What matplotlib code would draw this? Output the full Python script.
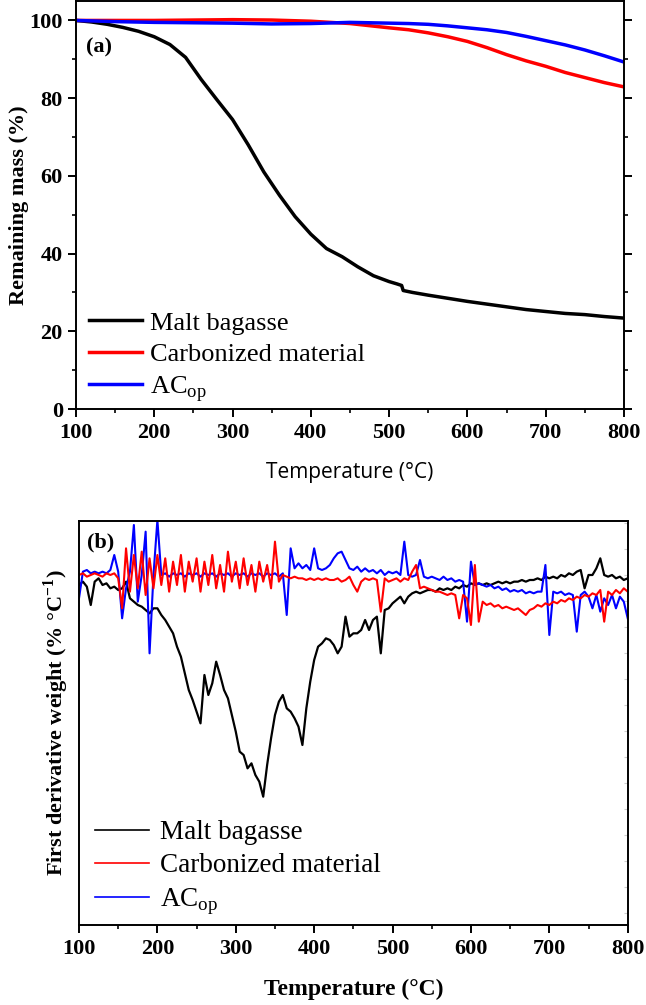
import matplotlib
matplotlib.use('Agg')
import matplotlib.pyplot as plt
from matplotlib.ticker import MultipleLocator
import numpy as np

plt.rcParams['font.family'] = 'Liberation Serif'
plt.rcParams['mathtext.fontset'] = 'custom'
plt.rcParams['mathtext.rm'] = 'Liberation Serif'
plt.rcParams['mathtext.bf'] = 'Liberation Serif:bold'

labels = ['Malt bagasse', 'Carbonized material', 'AC$_{\\mathrm{op}}$']
colors = ['black', '#ff0000', '#0000ff']

# (a) TGA curves
t_malt = [100, 120, 140, 160, 180, 200, 220, 240, 260, 280, 300, 320, 340, 360, 380,
          400, 420, 440, 460, 480, 500, 510, 516, 518, 530, 550, 575, 600, 625, 650,
          675, 700, 725, 750, 775, 800]
mass_malt = [100, 99.6, 99.0, 98.2, 97.2, 95.8, 93.8, 90.5, 84.8, 79.6, 74.5, 68.0, 61.0,
             55.0, 49.5, 45.0, 41.3, 39.2, 36.6, 34.3, 32.8, 32.2, 31.8, 30.5, 30.0, 29.3,
             28.5, 27.7, 27.0, 26.3, 25.6, 25.1, 24.6, 24.3, 23.8, 23.4]
t_ac = [100, 150, 200, 250, 300, 350, 400, 450, 500, 525, 550, 575, 600, 625, 650, 675,
        700, 725, 750, 775, 800]
mass_carb = [100, 100, 100, 100.1, 100.2, 100.1, 99.8, 99.2, 98.1, 97.6, 96.8, 95.8, 94.6,
             93.0, 91.2, 89.6, 88.2, 86.6, 85.3, 84.0, 82.9]
mass_acop = [100, 99.7, 99.5, 99.4, 99.3, 99.1, 99.2, 99.5, 99.3, 99.2, 99.0, 98.6, 98.1,
             97.6, 96.9, 95.9, 94.8, 93.7, 92.4, 90.9, 89.3]

# (b) DTG curves, 5 degC steps from 100 to 800
t_dtg = list(range(100, 801, 5))
dtg_malt = [
    -0.03, -0.02, -0.035, -0.09, -0.02, -0.01, -0.03, -0.025, -0.04, -0.035,    # 100-145
    -0.045, -0.04, -0.02, -0.07, -0.08, -0.09, -0.095, -0.105, -0.115, -0.10,   # 150-195
    -0.10, -0.12, -0.135, -0.155, -0.175, -0.215, -0.245, -0.295, -0.345, -0.375,  # 200-245
    -0.41, -0.445, -0.30, -0.36, -0.325, -0.26, -0.30, -0.345, -0.37, -0.42,    # 250-295
    -0.47, -0.53, -0.54, -0.58, -0.565, -0.60, -0.62, -0.665, -0.57, -0.49,     # 300-345
    -0.42, -0.38, -0.36, -0.40, -0.41, -0.43, -0.455, -0.51, -0.40, -0.32,      # 350-395
    -0.255, -0.215, -0.205, -0.19, -0.195, -0.21, -0.235, -0.215, -0.125, -0.185,  # 400-445
    -0.175, -0.175, -0.165, -0.135, -0.165, -0.135, -0.125, -0.235, -0.105, -0.10,  # 450-495
    -0.085, -0.075, -0.065, -0.085, -0.065, -0.055, -0.05, -0.055, -0.05, -0.045,   # 500-545
    -0.045, -0.05, -0.04, -0.045, -0.04, -0.045, -0.035, -0.04, -0.03, -0.035,     # 550-595
    -0.025, -0.03, -0.025, -0.03, -0.025, -0.03, -0.025, -0.02, -0.025, -0.02,     # 600-645
    -0.025, -0.02, -0.02, -0.015, -0.02, -0.015, -0.015, -0.01, -0.015, -0.005,    # 650-695
    -0.01, -0.005, -0.01, 0.0, -0.005, 0.005, 0.0, 0.01, 0.015, -0.04,             # 700-745
    0.0, 0.0, 0.02, 0.05, 0.0, -0.005, 0.0, -0.01, -0.005, -0.015,                 # 750-795
    -0.01]
dtg_carb = [
    0.0, 0.005, -0.005, 0.0, 0.005, 0.0, -0.005, 0.005, 0.0, 0.005,
    -0.01, -0.10, 0.08, -0.05, 0.06, -0.04, 0.07, -0.06, 0.05, -0.04,
    0.06, -0.03, 0.05, -0.05, 0.04, -0.03, 0.06, -0.05, 0.04, -0.02,
    0.05, -0.05, 0.04, -0.03, 0.06, -0.04, 0.03, -0.05, 0.07, -0.02,
    0.04, -0.04, 0.05, -0.03, 0.03, -0.05, 0.04, -0.02, 0.03, -0.04,
    0.10, -0.02, 0.0, -0.005, -0.01, -0.005, -0.01, -0.01, -0.015, -0.01,
    -0.015, -0.01, -0.015, -0.01, -0.015, -0.015, -0.01, -0.02, -0.015, -0.005,
    -0.03, -0.05, -0.02, -0.01, -0.015, -0.01, -0.015, -0.11, -0.01, -0.02,
    -0.015, -0.01, -0.02, -0.01, -0.015, 0.01, 0.03, -0.04, -0.035, -0.04,
    -0.045, -0.05, -0.05, -0.055, -0.06, -0.055, -0.06, -0.13, -0.06, -0.07,
    -0.15, 0.03, -0.14, -0.08, -0.09, -0.085, -0.095, -0.09, -0.10, -0.095,
    -0.10, -0.105, -0.10, -0.11, -0.12, -0.105, -0.10, -0.09, -0.095, -0.085,
    -0.09, -0.08, -0.085, -0.075, -0.08, -0.07, -0.075, -0.065, -0.07, -0.06,
    -0.065, -0.055, -0.06, -0.045, -0.14, -0.05, -0.06, -0.045, -0.055, -0.04,
    -0.05]
dtg_acop = [
    -0.07, 0.01, 0.015, 0.005, 0.01, 0.005, 0.01, 0.005, 0.015, 0.06,
    0.01, -0.13, -0.04, 0.01, 0.15, -0.08, 0.0, 0.13, -0.235, 0.0,
    0.165, 0.0, 0.005, -0.005, 0.005, 0.0, 0.005, -0.005, 0.005, 0.0,
    0.005, -0.005, 0.005, 0.0, 0.005, -0.005, 0.005, 0.0, 0.005, -0.005,
    0.005, 0.0, 0.005, -0.005, 0.005, 0.0, 0.005, -0.005, 0.005, 0.0,
    0.005, -0.005, 0.005, -0.12, 0.08, 0.02, 0.035, 0.02, 0.03, 0.015,
    0.08, 0.02, 0.015, 0.02, 0.03, 0.05, 0.065, 0.07, 0.045, 0.02,
    0.015, 0.025, 0.01, 0.02, 0.01, 0.015, 0.005, 0.015, 0.0, 0.01,
    0.005, 0.01, 0.0, 0.10, 0.0, -0.005, 0.0, 0.045, -0.005, -0.01,
    -0.005, -0.01, -0.015, -0.005, -0.015, -0.01, -0.02, -0.015, -0.02, -0.14,
    0.04, -0.03, -0.025, -0.03, -0.035, -0.03, -0.04, -0.035, -0.045, -0.04,
    -0.05, -0.045, -0.05, -0.045, -0.055, -0.05, -0.055, -0.05, -0.05, 0.03,
    -0.18, -0.05, -0.055, -0.05, -0.06, -0.055, -0.06, -0.17, -0.06, -0.05,
    -0.065, -0.10, -0.06, -0.11, -0.07, -0.09, -0.06, -0.10, -0.065, -0.08,
    -0.13]

fig = plt.figure(figsize=(6.46, 10.05), dpi=100)
ax1 = fig.add_axes([0.1176, 0.593, 0.8483, 0.406])
ax2 = fig.add_axes([0.1223, 0.0796, 0.8494, 0.402])

ax1.plot(t_malt, mass_malt, color=colors[0], lw=2.5, label=labels[0])
ax1.plot(t_ac, mass_carb, color=colors[1], lw=2.5, label=labels[1])
ax1.plot(t_ac, mass_acop, color=colors[2], lw=2.5, label=labels[2])
ax1.set_xlim(100, 800)
ax1.set_ylim(0, 105)
ax1.xaxis.set_major_locator(MultipleLocator(100))
ax1.xaxis.set_minor_locator(MultipleLocator(50))
ax1.yaxis.set_major_locator(MultipleLocator(20))
ax1.yaxis.set_minor_locator(MultipleLocator(10))
ax1.set_ylabel('Remaining mass (%)', fontsize=16, fontweight='bold', labelpad=0)
ax1.set_xlabel('Temperature (°C)', fontsize=15, family='Open Sans', labelpad=14)
ax1.text(0.018, 0.885, '(a)', transform=ax1.transAxes, fontsize=16, fontweight='bold',
         va='center')
ax1.legend(loc='lower left', bbox_to_anchor=(0.0, -0.02), frameon=False, fontsize=19,
           handlelength=2.0, handletextpad=0.3, labelspacing=0.3, borderaxespad=0.1)

ax2.plot(t_dtg, dtg_malt, color=colors[0], lw=1.6, label=labels[0])
ax2.plot(t_dtg, dtg_acop, color=colors[2], lw=1.5, label=labels[2])
ax2.plot(t_dtg, dtg_carb, color=colors[1], lw=1.5, label=labels[1])
ax2.set_xlim(100, 800)
ax2.set_ylim(-1.05, 0.162)
ax2.xaxis.set_major_locator(MultipleLocator(100))
ax2.xaxis.set_minor_locator(MultipleLocator(50))
ax2.yaxis.set_major_locator(MultipleLocator(0.078))
ax2.set_xlabel('Temperature (°C)', fontsize=17, fontweight='bold', labelpad=14)
ax2.set_ylabel('First derivative weight (% °C$^{\\mathbf{-1}}$)', fontsize=16,
               fontweight='bold', labelpad=6)
ax2.text(0.015, 0.935, '(b)', transform=ax2.transAxes, fontsize=16, fontweight='bold')
h, l = ax2.get_legend_handles_labels()
leg = ax2.legend([h[0], h[2], h[1]], [l[0], l[2], l[1]], loc='lower left',
                 bbox_to_anchor=(0.0, -0.02), frameon=False, fontsize=19.5,
                 handlelength=2.0, handletextpad=0.4, labelspacing=0.3, borderaxespad=0.2)
for line in leg.get_lines():
    line.set_linewidth(1.2)

for ax in (ax1, ax2):
    for s in ax.spines.values():
        s.set_linewidth(1.4)
    ax.tick_params(axis='x', which='major', direction='out', length=6, width=1.4,
                   labelsize=16, pad=4)
    ax.tick_params(axis='x', which='minor', direction='out', length=3, width=1.2)
    for lab in ax.get_xticklabels():
        lab.set_fontweight('bold')

ax1.tick_params(axis='y', which='major', direction='out', length=6, width=1.4,
                labelsize=16, right=True, labelright=False)
ax1.tick_params(axis='y', which='minor', direction='out', length=3, width=1.2,
                right=True)
for lab in ax1.get_yticklabels():
    lab.set_fontweight('bold')
ax2.tick_params(axis='y', which='major', left=False, labelleft=False, right=True,
                direction='in', length=3, color='#cccccc')

fig.savefig('out.png', dpi=100)
